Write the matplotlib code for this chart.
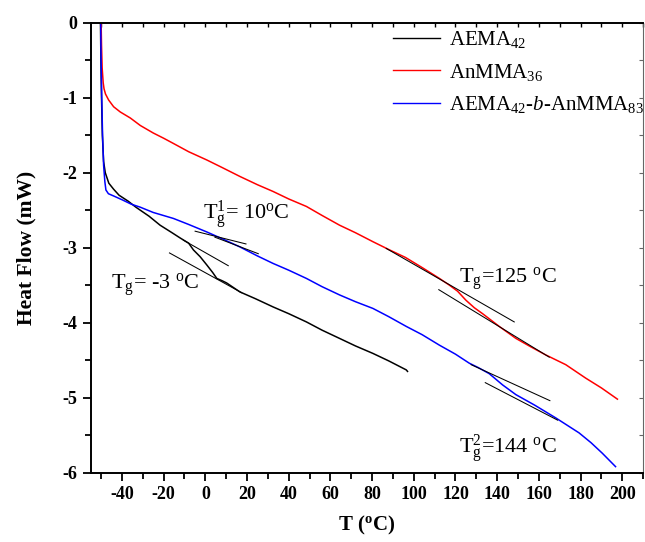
import matplotlib
matplotlib.use("Agg")
import matplotlib.pyplot as plt
from matplotlib.ticker import MultipleLocator

plt.rcParams["font.family"] = ["Liberation Serif", "DejaVu Serif"]
plt.rcParams["font.weight"] = "bold"
plt.rcParams["axes.unicode_minus"] = False
plt.rcParams["mathtext.fontset"] = "custom"
plt.rcParams["mathtext.rm"] = "Liberation Serif:normal"
plt.rcParams["mathtext.it"] = "Liberation Serif:italic:normal"
plt.rcParams["mathtext.bf"] = "Liberation Serif:bold"

# DSC heat-flow traces (T in °C, heat flow in mW)
aema_T = [-50.3, -50.1, -49.8, -49.4, -48.8, -48, -46.3, -44, -41.4, -37, -33.3, -27,
          -21.7, -16, -12.1, -8, -5.7, -2.5, 0.7, 3.5, 5.5, 8, 10.2, 16.6, 24, 32.5,
          40, 48.5, 56, 64.4, 72, 80.4, 88, 96.4, 97]
aema_hf = [0, -0.5, -1.0, -1.5, -1.85, -2.0, -2.14, -2.22, -2.30, -2.38, -2.46, -2.58,
           -2.70, -2.80, -2.87, -2.94, -3.03, -3.12, -3.23, -3.33, -3.41, -3.44, -3.47,
           -3.59, -3.68, -3.79, -3.88, -3.99, -4.10, -4.21, -4.31, -4.41, -4.51, -4.63, -4.65]

anmma_T = [-50, -49.8, -49.5, -49, -48.6, -47.9, -46.4, -44, -40.8, -36, -31.2, -25, -20,
           -15.3, -8, 0.7, 8, 16.6, 25, 32.5, 40, 48.5, 56, 64.4, 72, 80.4, 88.4, 96,
           104.3, 112.3, 117.1, 121, 125, 129, 133, 141, 149, 156, 163.3, 172.9, 182.5,
           190, 197.7]
anmma_hf = [0, -0.3, -0.6, -0.8, -0.88, -0.95, -1.03, -1.12, -1.19, -1.27, -1.37, -1.47,
            -1.54, -1.61, -1.72, -1.83, -1.93, -2.05, -2.16, -2.25, -2.35, -2.45, -2.57,
            -2.70, -2.80, -2.92, -3.03, -3.13, -3.27, -3.41, -3.50, -3.58, -3.70, -3.80,
            -3.88, -4.05, -4.21, -4.32, -4.43, -4.56, -4.74, -4.87, -5.02]

block_T = [-50.2, -50, -49.7, -49.3, -48.8, -48.2, -47.7, -46.5, -44, -40, -35.5, -31.2,
           -25, -15.3, -8, 0.7, 8, 16.6, 25, 32.5, 40, 48.5, 56, 64.4, 72, 80.4, 88, 96.4,
           104, 112.3, 120, 126.6, 131, 136.2, 142.6, 149, 158, 168.1, 179.3, 185, 190.4, 196.8]
block_hf = [0, -0.5, -1.0, -1.5, -1.9, -2.12, -2.23, -2.28, -2.31, -2.36, -2.42, -2.46,
            -2.53, -2.61, -2.69, -2.79, -2.88, -2.99, -3.11, -3.21, -3.30, -3.41, -3.52,
            -3.63, -3.72, -3.81, -3.92, -4.05, -4.16, -4.30, -4.42, -4.54, -4.60, -4.68,
            -4.83, -4.96, -5.10, -5.27, -5.47, -5.60, -5.74, -5.92]

# Baseline construction lines used to locate each glass transition: (T0, T1), (hf0, hf1)
tangent_T = [(-10.5, 11), (-17.2, 17.4), (-4.9, 19.5), (4.6, 25.4),
             (86.8, 148.2), (112, 165), (127.5, 165.3), (134.3, 169)]
tangent_hf = [(-2.90, -3.24), (-3.07, -3.60), (-2.78, -2.95), (-2.86, -3.08),
              (-3.01, -3.99), (-3.56, -4.46), (-4.56, -5.04), (-4.80, -5.30)]

# Glass transition labels: text, T, hf
tg_labels = [r"T$_{\rm g}$= -3 $^{\rm o}$C", r"T$^{\rm 1}_{\rm g}$= 10$^{\rm o}$C",
             r"T$_{\rm g}$=125 $^{\rm o}$C", r"T$^{\rm 2}_{\rm g}$=144 $^{\rm o}$C"]
tg_T = [-45.3, -1.2, 121.9, 121.9]
tg_hf = [-3.55, -2.61, -3.47, -5.73]

series_labels = [r"AEMA$_{42}$", r"AnMMA$_{36}$", r"AEMA$_{42}$-$\it{b}$-AnMMA$_{83}$"]
x_ticks = list(range(-40, 201, 20))
y_ticks = list(range(-6, 1))

fig = plt.figure(figsize=(6.45, 5.42), dpi=100)
ax = fig.add_axes([0.1406, 0.128, 0.997 - 0.1406, 0.958 - 0.128])

ax.plot(aema_T, aema_hf, color="black", lw=1.1, label=series_labels[0])
ax.plot(anmma_T, anmma_hf, color="red", lw=1.1, label=series_labels[1])
ax.plot(block_T, block_hf, color="blue", lw=1.1, label=series_labels[2])

for tt, hh in zip(tangent_T, tangent_hf):
    ax.plot(tt, hh, color="black", lw=0.75)

for txt, tx, hy in zip(tg_labels, tg_T, tg_hf):
    ax.text(tx, hy, txt, fontsize=16, fontweight="normal", ha="left", va="baseline")

ax.set_xlim(-55, 210)
ax.set_ylim(-6, 0)
ax.set_xticks(x_ticks)
ax.set_yticks(y_ticks)
ax.xaxis.set_minor_locator(MultipleLocator(10))
ax.yaxis.set_minor_locator(MultipleLocator(0.5))
ax.tick_params(which="major", direction="out", length=6, width=1.3, labelsize=13)
ax.tick_params(which="minor", direction="out", length=4, width=1.3)

for side in ("left", "bottom", "top"):
    ax.spines[side].set_linewidth(1.4)
ax.spines["right"].set_linewidth(0.8)
ax.spines["right"].set_color("#666666")

top = ax.secondary_xaxis("top")
top.set_xticks(list(range(-50, 211, 10)))
top.tick_params(direction="in", length=3, width=1.0, labeltop=False)
right = ax.secondary_yaxis("right")
right.set_yticks([-6 + 0.5 * i for i in range(13)])
right.tick_params(direction="in", length=3, width=0.8, labelright=False, color="#666666")
right.spines["right"].set_visible(False)
top.spines["top"].set_visible(False)

ax.set_xlabel(r"T ($^{\rm \bf o}$C)", fontsize=15, fontweight="bold", labelpad=8)
ax.set_ylabel("Heat Flow (mW)", fontsize=15.5, fontweight="bold", labelpad=19)

leg = ax.legend(loc="upper left", bbox_to_anchor=(0.52, 1.018), frameon=False,
                prop={"size": 15, "weight": "normal"}, handlelength=2.3,
                handletextpad=0.4, labelspacing=0.55, borderaxespad=0.3)
for line in leg.get_lines():
    line.set_linewidth(1.0)

fig.savefig("out.png", dpi=100)
